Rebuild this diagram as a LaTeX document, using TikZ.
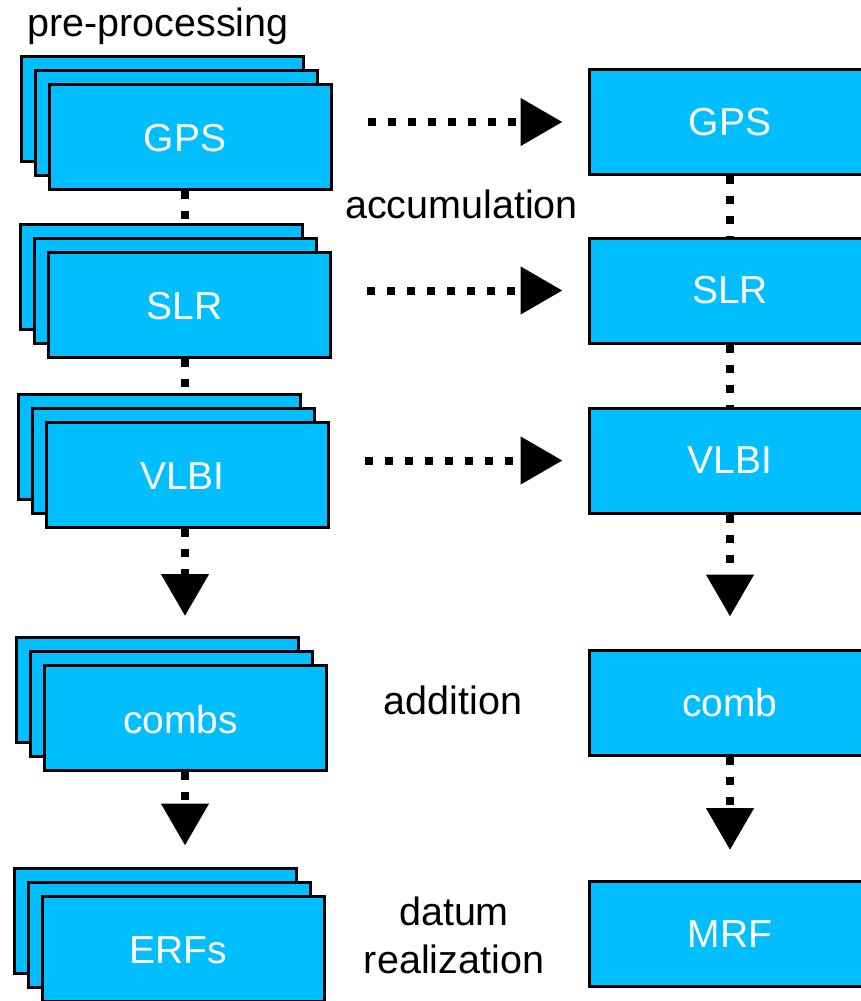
\documentclass[tikz,border=0pt]{standalone}
\usepackage{fontspec}
\setmainfont{Liberation Sans}
\usetikzlibrary{arrows.meta}
\definecolor{boxblue}{RGB}{0,190,255}
\newcommand\mystack[4]{%
  \node[box] (#1b) at (#2-28,#3-28) {};
  \node[box] (#1m) at (#2-14,#3-14) {};
  \node[box, text height=30pt, text depth=0pt] (#1f) at (#2,#3) {\hspace*{-10pt}#4};}
\begin{document}
\begin{tikzpicture}[x=1pt,y=-1pt,
  box/.style={draw=black, line width=3pt, fill=boxblue, minimum width=282pt,
    minimum height=105pt, inner sep=0pt, text=white,
    font=\fontsize{39}{45}\selectfont},
  lbl/.style={anchor=base, inner sep=0pt, font=\fontsize{39.5}{45}\selectfont},
  dots/.style={line width=8pt, dash pattern=on 8pt off 12pt},
  dotarrow/.style={dots, -{Triangle[width=46pt,length=42pt]}},
]
\useasboundingbox (0,0) rectangle (861,1001);

% left stacks
\mystack{GPS}{190}{136.5}{GPS}
\mystack{SLR}{189.5}{304.5}{SLR}
\mystack{VLBI}{187.5}{474.5}{VLBI}
\mystack{combs}{185.5}{718}{combs}
\mystack{ERFs}{183.5}{948.5}{ERFs}

% right column
\node[box] (GPSr) at (730,122) {GPS};
\node[box] (SLRr) at (730,290.5) {SLR};
\node[box] (VLBIr) at (730,460.5) {VLBI};
\node[box] (combr) at (730,702.5) {comb};
\node[box] (MRF) at (730,934) {MRF};

% labels
\node[lbl] (pre) at (158,36) {pre-processing};
\node[lbl] (acc) at (461.5,218) {accumulation};
\node[lbl] (add) at (453,714) {addition};
\node[lbl] (dat) at (454,925) {datum};
\node[lbl] (rea) at (454,973) {realization};

% left vertical dotted links
\draw[dots] ([xshift=-5pt]GPSf.south) -- ([xshift=-5pt]GPSf.south |- SLRb.north);
\draw[dots] ([xshift=-4.5pt]SLRf.south) -- ([xshift=-4.5pt]SLRf.south |- VLBIb.north);
\draw[dotarrow, shorten >=20pt] ([xshift=-2.5pt]VLBIf.south) -- ([xshift=-2.5pt]VLBIf.south |- combsb.north);
\draw[dotarrow, shorten >=21pt] ([xshift=-0.5pt]combsf.south) -- ([xshift=-0.5pt]combsf.south |- ERFsb.north);

% right vertical links
\draw[dots] (GPSr.south) -- (SLRr.north);
\draw[dots] (SLRr.south) -- (VLBIr.north);
\draw[dotarrow, shorten >=32pt] (VLBIr.south) -- (combr.north);
\draw[dotarrow, shorten >=30pt] (combr.south) -- (MRF.north);

% horizontal accumulation arrows
\draw[dotarrow, shorten <=35pt, shorten >=25pt] (GPSf.east |- GPSr.west) -- (GPSr.west);
\draw[dotarrow, shorten <=35pt, shorten >=25pt] (SLRf.east |- SLRr.west) -- (SLRr.west);
\draw[dotarrow, shorten <=35pt, shorten >=25pt] (VLBIf.east |- VLBIr.west) -- (VLBIr.west);
\end{tikzpicture}
\end{document}
